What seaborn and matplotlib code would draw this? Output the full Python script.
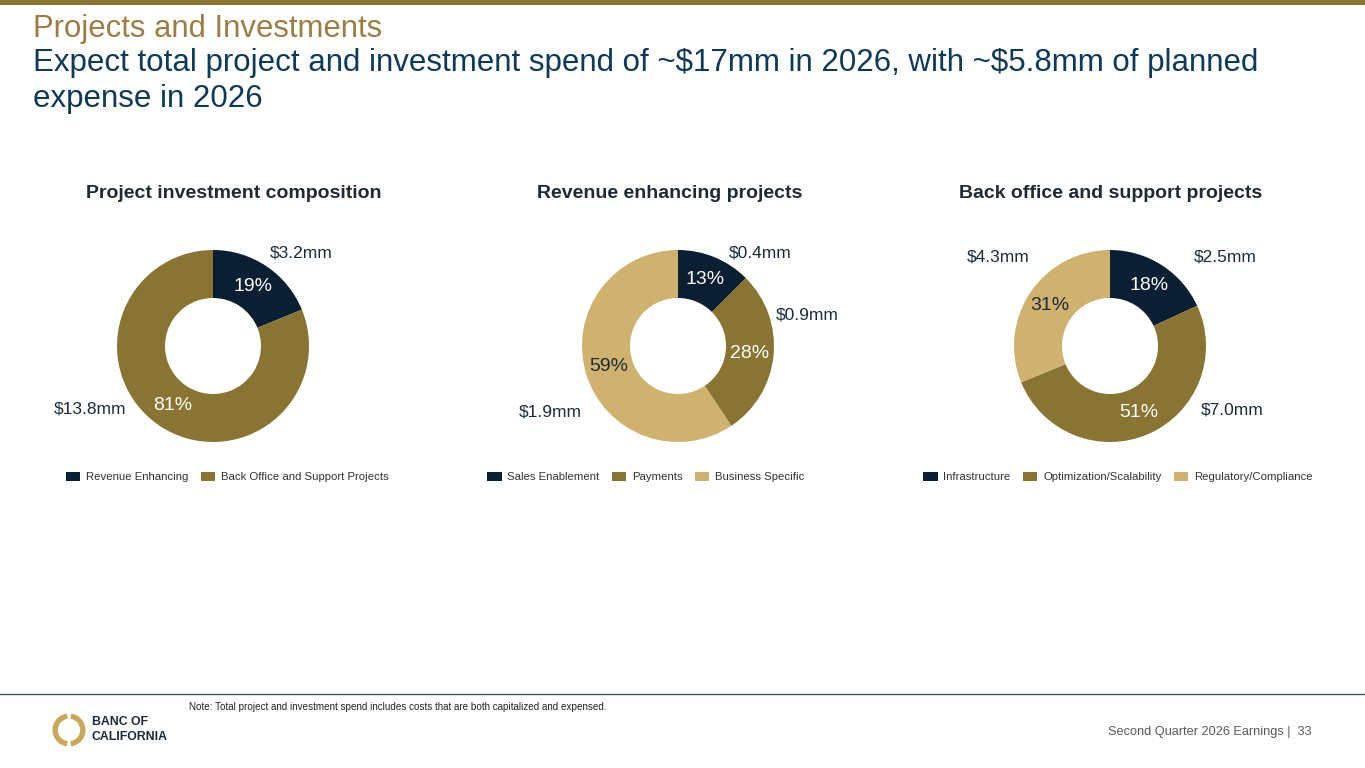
import matplotlib
matplotlib.use("Agg")
import matplotlib.pyplot as plt
import seaborn as sns
from matplotlib.patches import Patch, Wedge, Rectangle
from matplotlib.lines import Line2D
import numpy as np

# datos de cada dona
comp_labels = ["Revenue Enhancing", "Back Office and Support Projects"]
comp_values = [3.2, 13.8]
comp_pct = ["19%", "81%"]
comp_amounts = ["$3.2mm", "$13.8mm"]

rev_labels = ["Sales Enablement", "Payments", "Business Specific"]
rev_values = [0.4, 0.9, 1.9]
rev_pct = ["13%", "28%", "59%"]
rev_amounts = ["$0.4mm", "$0.9mm", "$1.9mm"]

bo_labels = ["Infrastructure", "Optimization/Scalability", "Regulatory/Compliance"]
bo_values = [2.5, 7.0, 4.3]
bo_pct = ["18%", "51%", "31%"]
bo_amounts = ["$2.5mm", "$7.0mm", "$4.3mm"]

chart_titles = ["Project investment composition", "Revenue enhancing projects",
                "Back office and support projects"]

sns.set_theme(style="white")
plt.rcParams['font.family'] = ['Liberation Sans', 'DejaVu Sans']
plt.rcParams['text.parse_math'] = False  # los $ son texto normal

NAVY = "#0B1F33"
OLIVE = "#8A7434"
TAN = "#CFB26F"
palette = sns.color_palette([NAVY, OLIVE, TAN])

W, H = 1365, 768
R = 96  # radio de la dona en px

fig = plt.figure(figsize=(W / 100, H / 100), dpi=100)
fig.patch.set_facecolor("white")


def fx(x):
    return x / W


def fy(y):
    return 1 - y / H


# barra superior y linea del pie de pagina
fig.add_artist(Rectangle((0, fy(5)), 1, 5 / H, color="#8B7535",
                         transform=fig.transFigure, lw=0))
fig.add_artist(Line2D([0, 1], [fy(694), fy(694)], color="#4A5560", lw=1,
                      transform=fig.transFigure))

fig.text(fx(33), fy(29), "Projects and Investments", fontsize=22.4,
         color="#9B7D45", va="center", ha="left")
fig.text(fx(33), fy(63), "Expect total project and investment spend of ~$17mm in 2026, with ~$5.8mm of planned",
         fontsize=22.5, color="#0E3A57", va="center", ha="left")
fig.text(fx(33), fy(99), "expense in 2026", fontsize=22.5, color="#0E3A57",
         va="center", ha="left")

charts = [
    (213, 234, 227, comp_values, comp_labels, comp_pct, comp_amounts,
     [(0.92, 0.97), (-1.28, -0.66)]),
    (678, 670, 646, rev_values, rev_labels, rev_pct, rev_amounts,
     [(0.86, 0.97), (1.35, 0.32), (-1.33, -0.69)]),
    (1110, 1111, 1118, bo_values, bo_labels, bo_pct, bo_amounts,
     [(1.20, 0.93), (1.27, -0.67), (-1.17, 0.93)]),
]

cy = 346
lim = 150 / R
for i, (cx, tx, lx, vals, labs, pcts, amts, offs) in enumerate(charts):
    ax = fig.add_axes([fx(cx - 150), fy(cy + 150), 300 / W, 300 / H])
    cols = palette[:len(vals)]
    wedges, _ = ax.pie(vals, colors=cols, startangle=90, counterclock=False,
                       wedgeprops=dict(width=0.5, edgecolor="none"))
    ax.set_xlim(-lim, lim)
    ax.set_ylim(-lim, lim)
    ax.set_aspect("equal")
    ax.axis("off")
    for j, w in enumerate(wedges):
        ang = np.deg2rad((w.theta1 + w.theta2) / 2)
        tc = "#1F2A36" if j == 2 else "white"
        ax.text(0.75 * np.cos(ang), 0.75 * np.sin(ang), pcts[j], fontsize=14,
                color=tc, ha="center", va="center")
        ax.text(offs[j][0], offs[j][1], amts[j], fontsize=12.5, color="#1A2B3C",
                ha="center", va="center", clip_on=False)

    fig.text(fx(tx), fy(194), chart_titles[i], fontsize=14, fontweight="bold",
             color="#1F2A36", ha="center", va="center")

    handles = [Patch(facecolor=c, edgecolor="none") for c in cols]
    fig.legend(handles, labs, loc="center", bbox_to_anchor=(fx(lx), fy(477)),
               ncol=3, frameon=False, fontsize=8.2, handlelength=1.25,
               handleheight=0.95, handletextpad=0.5, columnspacing=1.1,
               labelcolor="#333333")

fig.text(fx(189), fy(707), "Note: Total project and investment spend includes costs that are both capitalized and expensed.",
         fontsize=7.15, color="#222222", ha="left", va="center")
fig.text(fx(1311), fy(732), "Second Quarter 2026 Earnings |  33", fontsize=9.2,
         color="#595959", ha="right", va="center")

# logo
lax = fig.add_axes([fx(50), fy(749), 38 / W, 38 / H])
lax.add_patch(Wedge((0, 0), 1, 100, 260, width=0.25, color="#C9A959"))
lax.add_patch(Wedge((0, 0), 1, -80, 80, width=0.25, color="#C9A959"))
lax.set_xlim(-1.2, 1.2)
lax.set_ylim(-1.2, 1.2)
lax.set_aspect("equal")
lax.axis("off")
fig.text(fx(92), fy(722), "BANC OF", fontsize=8.8, fontweight="bold",
         color="#1B2A3A", ha="left", va="center")
fig.text(fx(92), fy(737), "CALIFORNIA", fontsize=8.8, fontweight="bold",
         color="#1B2A3A", ha="left", va="center")

fig.savefig("out.png", dpi=100, facecolor="white")
